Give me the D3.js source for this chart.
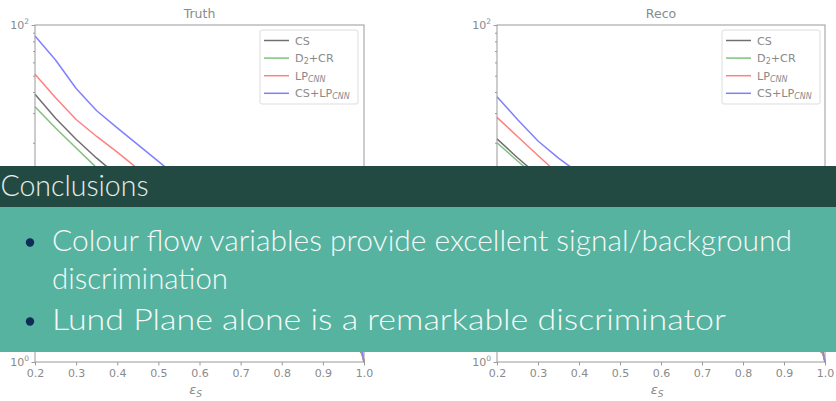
<!DOCTYPE html>
<html>
<head>
<meta charset="utf-8">
<script src="https://cdn.jsdelivr.net/npm/d3@7"></script>
<style>
  html, body { margin: 0; padding: 0; background: #ffffff; }
  svg { display: block; }
</style>
</head>
<body>
<svg id="chart" width="836" height="401"></svg>
<script>
// ---------------- data ----------------
const effSignal = [0.2, 0.25, 0.3, 0.35, 0.4, 0.45, 0.5, 0.55, 0.6, 0.65, 0.7, 0.75, 0.8, 0.85, 0.9, 0.95, 0.98, 0.99, 0.995, 1.0];

const seriesNames = ["CS", "D2+CR", "LP_CNN", "CS+LP_CNN"];
const seriesColors = ["#707070", "#80c080", "#ff8080", "#8080ff"];

// Truth panel: background rejection vs signal efficiency
const truthCS     = [38.8, 28.0, 21.0, 16.2, 12.8, 10.3, 8.4, 6.9, 5.7, 4.7, 3.9, 3.2, 2.6, 2.1, 1.7, 1.38, 1.2, 1.16, 1.12, 1.0];
const truthD2CR   = [32.7, 24.5, 18.6, 14.2, 11.4, 9.3, 7.6, 6.3, 5.2, 4.3, 3.6, 3.0, 2.5, 2.05, 1.7, 1.4, 1.22, 1.17, 1.13, 1.0];
const truthLP     = [51.0, 37.0, 27.5, 21.8, 17.6, 14.0, 11.3, 9.2, 7.5, 6.1, 5.0, 4.0, 3.2, 2.5, 1.95, 1.5, 1.25, 1.18, 1.14, 1.0];
const truthCSLP   = [86.0, 62.0, 42.0, 31.0, 24.5, 19.5, 15.5, 12.3, 9.8, 7.8, 6.2, 4.9, 3.8, 2.9, 2.2, 1.6, 1.3, 1.25, 1.2, 1.0];

// Reco panel
const recoCS      = [21.1, 16.3, 12.8, 10.3, 8.5, 7.0, 5.9, 5.0, 4.2, 3.6, 3.05, 2.6, 2.2, 1.85, 1.55, 1.3, 1.18, 1.15, 1.12, 1.0];
const recoD2CR    = [20.0, 15.6, 12.3, 9.9, 8.2, 6.8, 5.7, 4.8, 4.1, 3.5, 3.0, 2.55, 2.2, 1.85, 1.55, 1.32, 1.2, 1.16, 1.13, 1.0];
const recoLP      = [28.3, 21.8, 16.8, 13.0, 10.6, 8.7, 7.2, 6.0, 5.0, 4.2, 3.5, 2.9, 2.4, 2.0, 1.65, 1.35, 1.2, 1.16, 1.14, 1.0];
const recoCSLP    = [37.5, 27.5, 20.5, 16.2, 13.2, 10.8, 8.9, 7.3, 6.0, 5.0, 4.1, 3.4, 2.8, 2.25, 1.8, 1.45, 1.25, 1.2, 1.17, 1.0];

const xTickValues = [0.2, 0.3, 0.4, 0.5, 0.6, 0.7, 0.8, 0.9, 1.0];
const yMajorTicks = [1, 10, 100];
const yMajorLabels = [1, 100];          // 10^1 label is covered by the banner in the reference
const yMinorTicks = [2, 3, 4, 5, 6, 7, 8, 9, 20, 30, 40, 50, 60, 70, 80, 90];

const panelTitles = ["Truth", "Reco"];
const xAxisLabel = "ε";
const xAxisLabelSub = "S";

const bannerTitle = "Conclusions";
const bulletLines = [
  { text: "Colour flow variables provide excellent signal/background", bullet: true },
  { text: "discrimination", bullet: false },
  { text: "Lund Plane alone is a remarkable discriminator", bullet: true }
];

// ---------------- drawing ----------------
const svg = d3.select("#chart");
const axisColor = "#9a9a9a";
const textColor = "#8a8a8a";
const tickFont = "DejaVu Sans, sans-serif";

const panels = [
  { title: panelTitles[0], left: 35, right: 364, series: [truthCS, truthD2CR, truthLP, truthCSLP], legendRight: 358 },
  { title: panelTitles[1], left: 497, right: 825, series: [recoCS, recoD2CR, recoLP, recoCSLP], legendRight: 820 }
];
const plotTop = 25, plotBottom = 362;

panels.forEach(p => {
  const g = svg.append("g");
  const x = d3.scaleLinear().domain([0.2, 1.0]).range([p.left, p.right]);
  const y = d3.scaleLog().domain([1, 100]).range([plotBottom, plotTop]);

  // curves
  const line = d3.line().x(d => x(d[0])).y(d => y(d[1]));
  p.series.forEach((vals, i) => {
    const pts = effSignal.map((e, k) => [e, vals[k]]);
    g.append("path")
      .datum(pts)
      .attr("d", line)
      .attr("fill", "none")
      .attr("stroke", seriesColors[i])
      .attr("stroke-width", 1.5)
      .attr("stroke-linejoin", "round");
  });

  // frame
  g.append("rect")
    .attr("x", p.left).attr("y", plotTop)
    .attr("width", p.right - p.left).attr("height", plotBottom - plotTop)
    .attr("fill", "none").attr("stroke", axisColor).attr("stroke-width", 1);

  // x axis
  const xAxis = g.append("g").attr("transform", `translate(0,${plotBottom})`)
    .call(d3.axisBottom(x).tickValues(xTickValues).tickFormat(d3.format(".1f")).tickSize(3.5).tickPadding(3.5));
  xAxis.select(".domain").remove();
  xAxis.selectAll("line").attr("stroke", axisColor);
  xAxis.selectAll("text").attr("fill", textColor).attr("font-family", tickFont).attr("font-size", 11);

  // y axis major
  const yAxis = g.append("g").attr("transform", `translate(${p.left},0)`)
    .call(d3.axisLeft(y).tickValues(yMajorTicks).tickFormat(() => "").tickSize(3.5));
  yAxis.select(".domain").remove();
  yAxis.selectAll("line").attr("stroke", axisColor);
  // y axis minor
  const yMinor = g.append("g").attr("transform", `translate(${p.left},0)`)
    .call(d3.axisLeft(y).tickValues(yMinorTicks).tickFormat(() => "").tickSize(2));
  yMinor.select(".domain").remove();
  yMinor.selectAll("line").attr("stroke", axisColor);

  // y tick labels 10^n
  yMajorLabels.forEach(v => {
    const t = g.append("text")
      .attr("x", p.left - 6).attr("y", y(v) + 3.5)
      .attr("text-anchor", "end")
      .attr("fill", textColor).attr("font-family", tickFont).attr("font-size", 11);
    t.append("tspan").text("10");
    t.append("tspan").attr("dy", -5).attr("font-size", 7.5).text(String(Math.round(Math.log10(v))));
  });

  // title
  g.append("text")
    .attr("x", (p.left + p.right) / 2).attr("y", 17.5)
    .attr("text-anchor", "middle")
    .attr("fill", textColor).attr("font-family", tickFont).attr("font-size", 12.5)
    .text(p.title);

  // x label
  const xl = g.append("text")
    .attr("x", (p.left + p.right) / 2 - 4).attr("y", 394)
    .attr("text-anchor", "middle")
    .attr("fill", textColor).attr("font-family", tickFont).attr("font-size", 13).attr("font-style", "italic");
  xl.append("tspan").text(xAxisLabel);
  xl.append("tspan").attr("dy", 3).attr("font-size", 9).text(xAxisLabelSub);

  // legend
  const lw = 98, lh = 74;
  const lx = p.legendRight - lw, ly = 30;
  const lg = g.append("g");
  lg.append("rect").attr("x", lx).attr("y", ly).attr("width", lw).attr("height", lh)
    .attr("rx", 2).attr("fill", "#ffffff").attr("stroke", "#dddddd").attr("stroke-width", 1);
  seriesNames.forEach((name, i) => {
    const yy = ly + 10.5 + i * 17.6;
    lg.append("line").attr("x1", lx + 4).attr("x2", lx + 29).attr("y1", yy).attr("y2", yy)
      .attr("stroke", seriesColors[i]).attr("stroke-width", 1.5);
    const t = lg.append("text").attr("x", lx + 35).attr("y", yy + 4)
      .attr("fill", textColor).attr("font-family", tickFont).attr("font-size", 11.2);
    if (name === "CS") {
      t.append("tspan").text("CS");
    } else if (name === "D2+CR") {
      t.append("tspan").text("D");
      t.append("tspan").attr("font-size", 8).attr("dy", 2).text("2");
      t.append("tspan").attr("dy", -2).text("+CR");
    } else if (name === "LP_CNN") {
      t.append("tspan").text("LP");
      t.append("tspan").attr("font-size", 8).attr("dy", 2).attr("font-style", "italic").text("CNN");
    } else {
      t.append("tspan").text("CS+LP");
      t.append("tspan").attr("font-size", 8).attr("dy", 2).attr("font-style", "italic").text("CNN");
    }
  });
});

// ---------------- overlay: Conclusions block ----------------
svg.append("rect").attr("x", 0).attr("y", 166).attr("width", 836).attr("height", 41).attr("fill", "#234a42");
svg.append("rect").attr("x", 0).attr("y", 207).attr("width", 836).attr("height", 145).attr("fill", "#55b3a0");

const bannerFont = "Lato, 'Open Sans', sans-serif";
svg.append("text")
  .attr("x", 0.5).attr("y", 196)
  .attr("fill", "#e6eeeb").attr("font-family", bannerFont).attr("font-weight", 300).attr("font-size", 29)
  .attr("textLength", 148).attr("lengthAdjust", "spacingAndGlyphs")
  .text(bannerTitle);

const lineBaselines = [251, 289, 330];
const lineLengths = [740, 176, 674];
bulletLines.forEach((ln, i) => {
  if (ln.bullet) {
    svg.append("circle").attr("cx", 30).attr("cy", lineBaselines[i] - 8.5).attr("r", 4.2).attr("fill", "#0c2d57");
  }
  svg.append("text")
    .attr("x", 52).attr("y", lineBaselines[i])
    .attr("fill", "#f6f9f8").attr("font-family", bannerFont).attr("font-weight", 300).attr("font-size", 30)
    .attr("textLength", lineLengths[i]).attr("lengthAdjust", "spacingAndGlyphs")
    .text(ln.text);
});
</script>
</body>
</html>
